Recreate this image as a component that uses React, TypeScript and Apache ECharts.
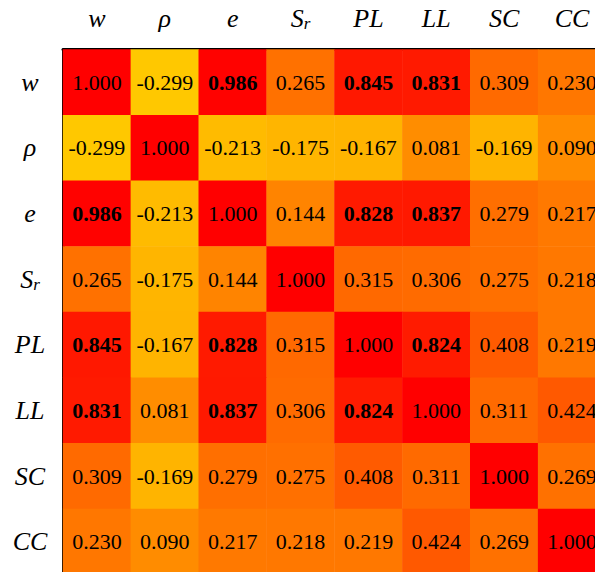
import React, { useEffect, useRef } from "react";
import * as echarts from "echarts";

const variables = ["w", "ρ", "e", "S_r", "PL", "LL", "SC", "CC"];

const rowW = [1.0, -0.299, 0.986, 0.265, 0.845, 0.831, 0.309, 0.23];
const rowRho = [-0.299, 1.0, -0.213, -0.175, -0.167, 0.081, -0.169, 0.09];
const rowE = [0.986, -0.213, 1.0, 0.144, 0.828, 0.837, 0.279, 0.217];
const rowSr = [0.265, -0.175, 0.144, 1.0, 0.315, 0.306, 0.275, 0.218];
const rowPL = [0.845, -0.167, 0.828, 0.315, 1.0, 0.824, 0.408, 0.219];
const rowLL = [0.831, 0.081, 0.837, 0.306, 0.824, 1.0, 0.311, 0.424];
const rowSC = [0.309, -0.169, 0.279, 0.275, 0.408, 0.311, 1.0, 0.269];
const rowCC = [0.23, 0.09, 0.217, 0.218, 0.219, 0.424, 0.269, 1.0];

const matrix = [rowW, rowRho, rowE, rowSr, rowPL, rowLL, rowSC, rowCC];

const FONT = "'Liberation Serif', 'Times New Roman', serif";

const fmtName = (v: string) => (v === "S_r" ? "{i|S}{s|r}" : `{i|${v}}`);

const rich = {
  i: { fontFamily: FONT, fontStyle: "italic", fontSize: 26, color: "#000" },
  s: {
    fontFamily: FONT,
    fontStyle: "italic",
    fontSize: 17,
    color: "#000",
    verticalAlign: "bottom",
    padding: [10, 0, 0, 0],
  },
};

export default function App() {
  const ref = useRef<HTMLDivElement>(null);
  useEffect(() => {
    if (!ref.current) return;
    const chart = echarts.init(ref.current, null, { renderer: "svg" });
    const data: any[] = [];
    matrix.forEach((row, i) => {
      row.forEach((v, j) => {
        data.push({
          value: [j, i, v],
          label: { fontWeight: i !== j && Math.abs(v) > 0.8 ? "bold" : "normal" },
        });
      });
    });
    chart.setOption({
      animation: false,
      textStyle: { fontFamily: FONT },
      grid: {
        left: 63,
        top: 49.5,
        width: 543,
        height: 525,
        containLabel: false,
        outerBoundsMode: "none",
      },
      xAxis: {
        type: "category",
        position: "top",
        data: variables,
        axisTick: { show: false },
        axisLine: { show: true, lineStyle: { color: "#000", width: 3 } },
        axisLabel: {
          formatter: fmtName,
          rich,
          margin: 31,
          verticalAlign: "middle",
          interval: 0,
          hideOverlap: false,
        },
        splitLine: { show: false },
      },
      yAxis: {
        type: "category",
        inverse: true,
        data: variables,
        axisTick: { show: false },
        axisLine: { show: true, lineStyle: { color: "#000", width: 3 } },
        axisLabel: {
          formatter: fmtName,
          rich,
          margin: 33,
          align: "center",
          interval: 0,
        },
        splitLine: { show: false },
      },
      visualMap: {
        show: false,
        type: "continuous",
        min: -0.299,
        max: 1,
        dimension: 2,
        inRange: { color: ["#FFC800", "#FF0000"] },
      },
      series: [
        {
          type: "heatmap",
          data,
          label: {
            show: true,
            fontFamily: FONT,
            fontSize: 22,
            color: "#000",
            formatter: (p: any) => p.value[2].toFixed(3),
          },
          emphasis: { disabled: true },
        },
      ],
    });
    return () => chart.dispose();
  }, []);
  return (
    <div
      ref={ref}
      style={{ position: "absolute", left: 0, top: 0, width: 595, height: 572, background: "#fff" }}
    />
  );
}
